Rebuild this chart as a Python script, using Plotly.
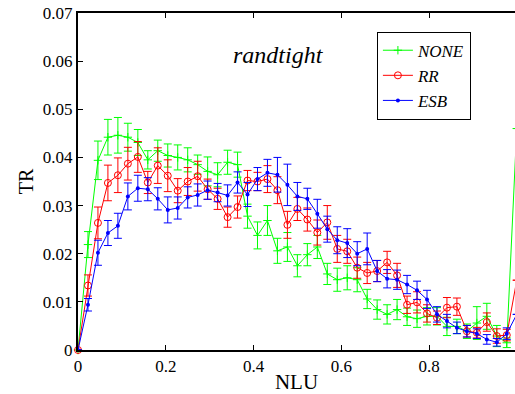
import plotly.graph_objects as go

n_points = 45
nlu = [k / 44 for k in range(n_points)]

none_tr = [0, 0.0219, 0.0394, 0.0442, 0.0446, 0.0442, 0.0431, 0.0395, 0.0414, 0.0404,
           0.0400, 0.0395, 0.0385, 0.0371, 0.0364, 0.0390, 0.0385, 0.0278, 0.0238, 0.0269,
           0.0206, 0.0214, 0.0175, 0.0198, 0.0214, 0.0158, 0.0146, 0.0150, 0.0146, 0.0106,
           0.0084, 0.0074, 0.0084, 0.0069, 0.0065, 0.0070, 0.0070, 0.0049, 0.0049, 0.0039,
           0.0056, 0.0070, 0.0029, 0.0015, 0.0460]
none_err = [0, 0.0027, 0.0040, 0.0037, 0.0037, 0.0029, 0.0027, 0.0019, 0.0022, 0.0024,
            0.0026, 0.0025, 0.0020, 0.0030, 0.0025, 0.0025, 0.0026, 0.0025, 0.0028, 0.0031,
            0.0026, 0.0030, 0.0023, 0.0023, 0.0024, 0.0022, 0.0024, 0.0025, 0.0025, 0.0020,
            0.0020, 0.0020, 0.0021, 0.0018, 0.0018, 0.0018, 0.0018, 0.0019, 0.0015, 0.0015,
            0.0034, 0.0027, 0.0022, 0.0010, 0]

rr_tr = [0, 0.0134, 0.0264, 0.0347, 0.0363, 0.0387, 0.0401, 0.0348, 0.0383, 0.0362,
         0.0331, 0.0350, 0.0361, 0.0334, 0.0314, 0.0276, 0.0297, 0.0352, 0.0350, 0.0355,
         0.0332, 0.0260, 0.0293, 0.0271, 0.0244, 0.0265, 0.0210, 0.0205, 0.0171, 0.0160,
         0.0164, 0.0182, 0.0155, 0.0094, 0.0099, 0.0076, 0.0067, 0.0088, 0.0090, 0.0039,
         0.0036, 0.0058, 0.0029, 0.0031, 0.0145]
rr_err = [0, 0.0022, 0.0033, 0.0037, 0.0036, 0.0034, 0.0032, 0.0023, 0.0037, 0.0033,
          0.0025, 0.0029, 0.0031, 0.0021, 0.0022, 0.0021, 0.0023, 0.0021, 0.0019, 0.0028,
          0.0028, 0.0028, 0.0024, 0.0024, 0.0026, 0.0035, 0.0028, 0.0025, 0.0022, 0.0022,
          0.0022, 0.0023, 0.0025, 0.0018, 0.0022, 0.0018, 0.0014, 0.0021, 0.0018, 0.0012,
          0.0011, 0.0019, 0.0015, 0.0012, 0]

esb_tr = [0, 0.0094, 0.0202, 0.0243, 0.0258, 0.0319, 0.0336, 0.0334, 0.0314, 0.0291,
          0.0295, 0.0317, 0.0322, 0.0332, 0.0327, 0.0321, 0.0348, 0.0323, 0.0355, 0.0368,
          0.0364, 0.0343, 0.0319, 0.0314, 0.0283, 0.0251, 0.0228, 0.0222, 0.0200, 0.0210,
          0.0164, 0.0148, 0.0146, 0.0136, 0.0124, 0.0105, 0.0074, 0.0060, 0.0046, 0.0039,
          0.0034, 0.0022, 0.0016, 0.0034, 0.0074]
esb_err = [0, 0.0013, 0.0026, 0.0026, 0.0026, 0.0028, 0.0027, 0.0024, 0.0023, 0.0027,
           0.0023, 0.0022, 0.0023, 0.0019, 0.0019, 0.0022, 0.0022, 0.0025, 0.0024, 0.0028,
           0.0036, 0.0043, 0.0029, 0.0022, 0.0030, 0.0027, 0.0028, 0.0030, 0.0025, 0.0033,
           0.0022, 0.0019, 0.0020, 0.0019, 0.0019, 0.0019, 0.0016, 0.0014, 0.0012, 0.0012,
           0.0010, 0.0010, 0.0008, 0.0012, 0]

x_tickvals = [0, 0.2, 0.4, 0.6, 0.8, 1.0]
x_ticktext = ["0", "0.2", "0.4", "0.6", "0.8", "1"]
y_tickvals = [0, 0.01, 0.02, 0.03, 0.04, 0.05, 0.06, 0.07]
y_ticktext = ["0", "0.01", "0.02", "0.03", "0.04", "0.05", "0.06", "0.07"]

serif = "Liberation Serif, Times New Roman, Times, serif"

series = [
    ("NONE", none_tr, none_err, "#00ff00", dict(symbol="cross-thin-open", size=6, line=dict(width=1, color="#00ff00"))),
    ("RR", rr_tr, rr_err, "#ff0000", dict(symbol="circle-open", size=7, line=dict(width=1, color="#ff0000"))),
    ("ESB", esb_tr, esb_err, "#0000ff", dict(symbol="circle", size=4, color="#0000ff")),
]

fig = go.Figure()
for name, vals, errs, color, marker in series:
    fig.add_trace(go.Scatter(
        x=nlu, y=vals, name="<i>" + name + "</i>", mode="lines+markers",
        line=dict(color=color, width=1), marker=marker,
        error_y=dict(type="data", array=errs, visible=True, color=color, thickness=1, width=4),
        cliponaxis=False,
    ))

fig.add_annotation(x=0.458, y=0.0613, xref="x", yref="y", text="<i>randtight</i>",
                   showarrow=False, font=dict(family=serif, size=24, color="black"))

fig.update_layout(
    width=515, height=394,
    margin=dict(l=78, r=0, t=13, b=44, autoexpand=False),
    paper_bgcolor="white", plot_bgcolor="white",
    font=dict(family=serif, size=17, color="black"),
    showlegend=True,
    legend=dict(x=0.684, y=0.9446, xanchor="left", yanchor="top",
                bgcolor="white", bordercolor="black", borderwidth=1,
                font=dict(family=serif, size=17, color="black"),
                itemwidth=30, tracegroupgap=0),
    xaxis=dict(range=[0, 0.996], tickvals=x_tickvals, ticktext=x_ticktext,
               showgrid=False, zeroline=False, showline=True, linecolor="black", linewidth=2,
               mirror="ticks", ticks="inside", ticklen=5, tickcolor="black", automargin=False,
               title=dict(text="NLU", font=dict(family=serif, size=21), standoff=2)),
    yaxis=dict(range=[0, 0.07], tickvals=y_tickvals, ticktext=y_ticktext,
               showgrid=False, zeroline=False, showline=True, linecolor="black", linewidth=2,
               ticks="inside", ticklen=5, tickcolor="black", automargin=False,
               title=dict(text="TR", font=dict(family=serif, size=20), standoff=4)),
    yaxis2=dict(range=[0, 0.07], tickvals=y_tickvals, showticklabels=False,
                overlaying="y", side="right", anchor="x", showgrid=False, zeroline=False,
                showline=False, ticks="inside", ticklen=3, tickcolor="black"),
)

# remove the default 8px page margin so the figure fills the 515x394 window
fig.write_html("out.html", config={"displayModeBar": False},
               post_script="document.body.style.margin='0';")
